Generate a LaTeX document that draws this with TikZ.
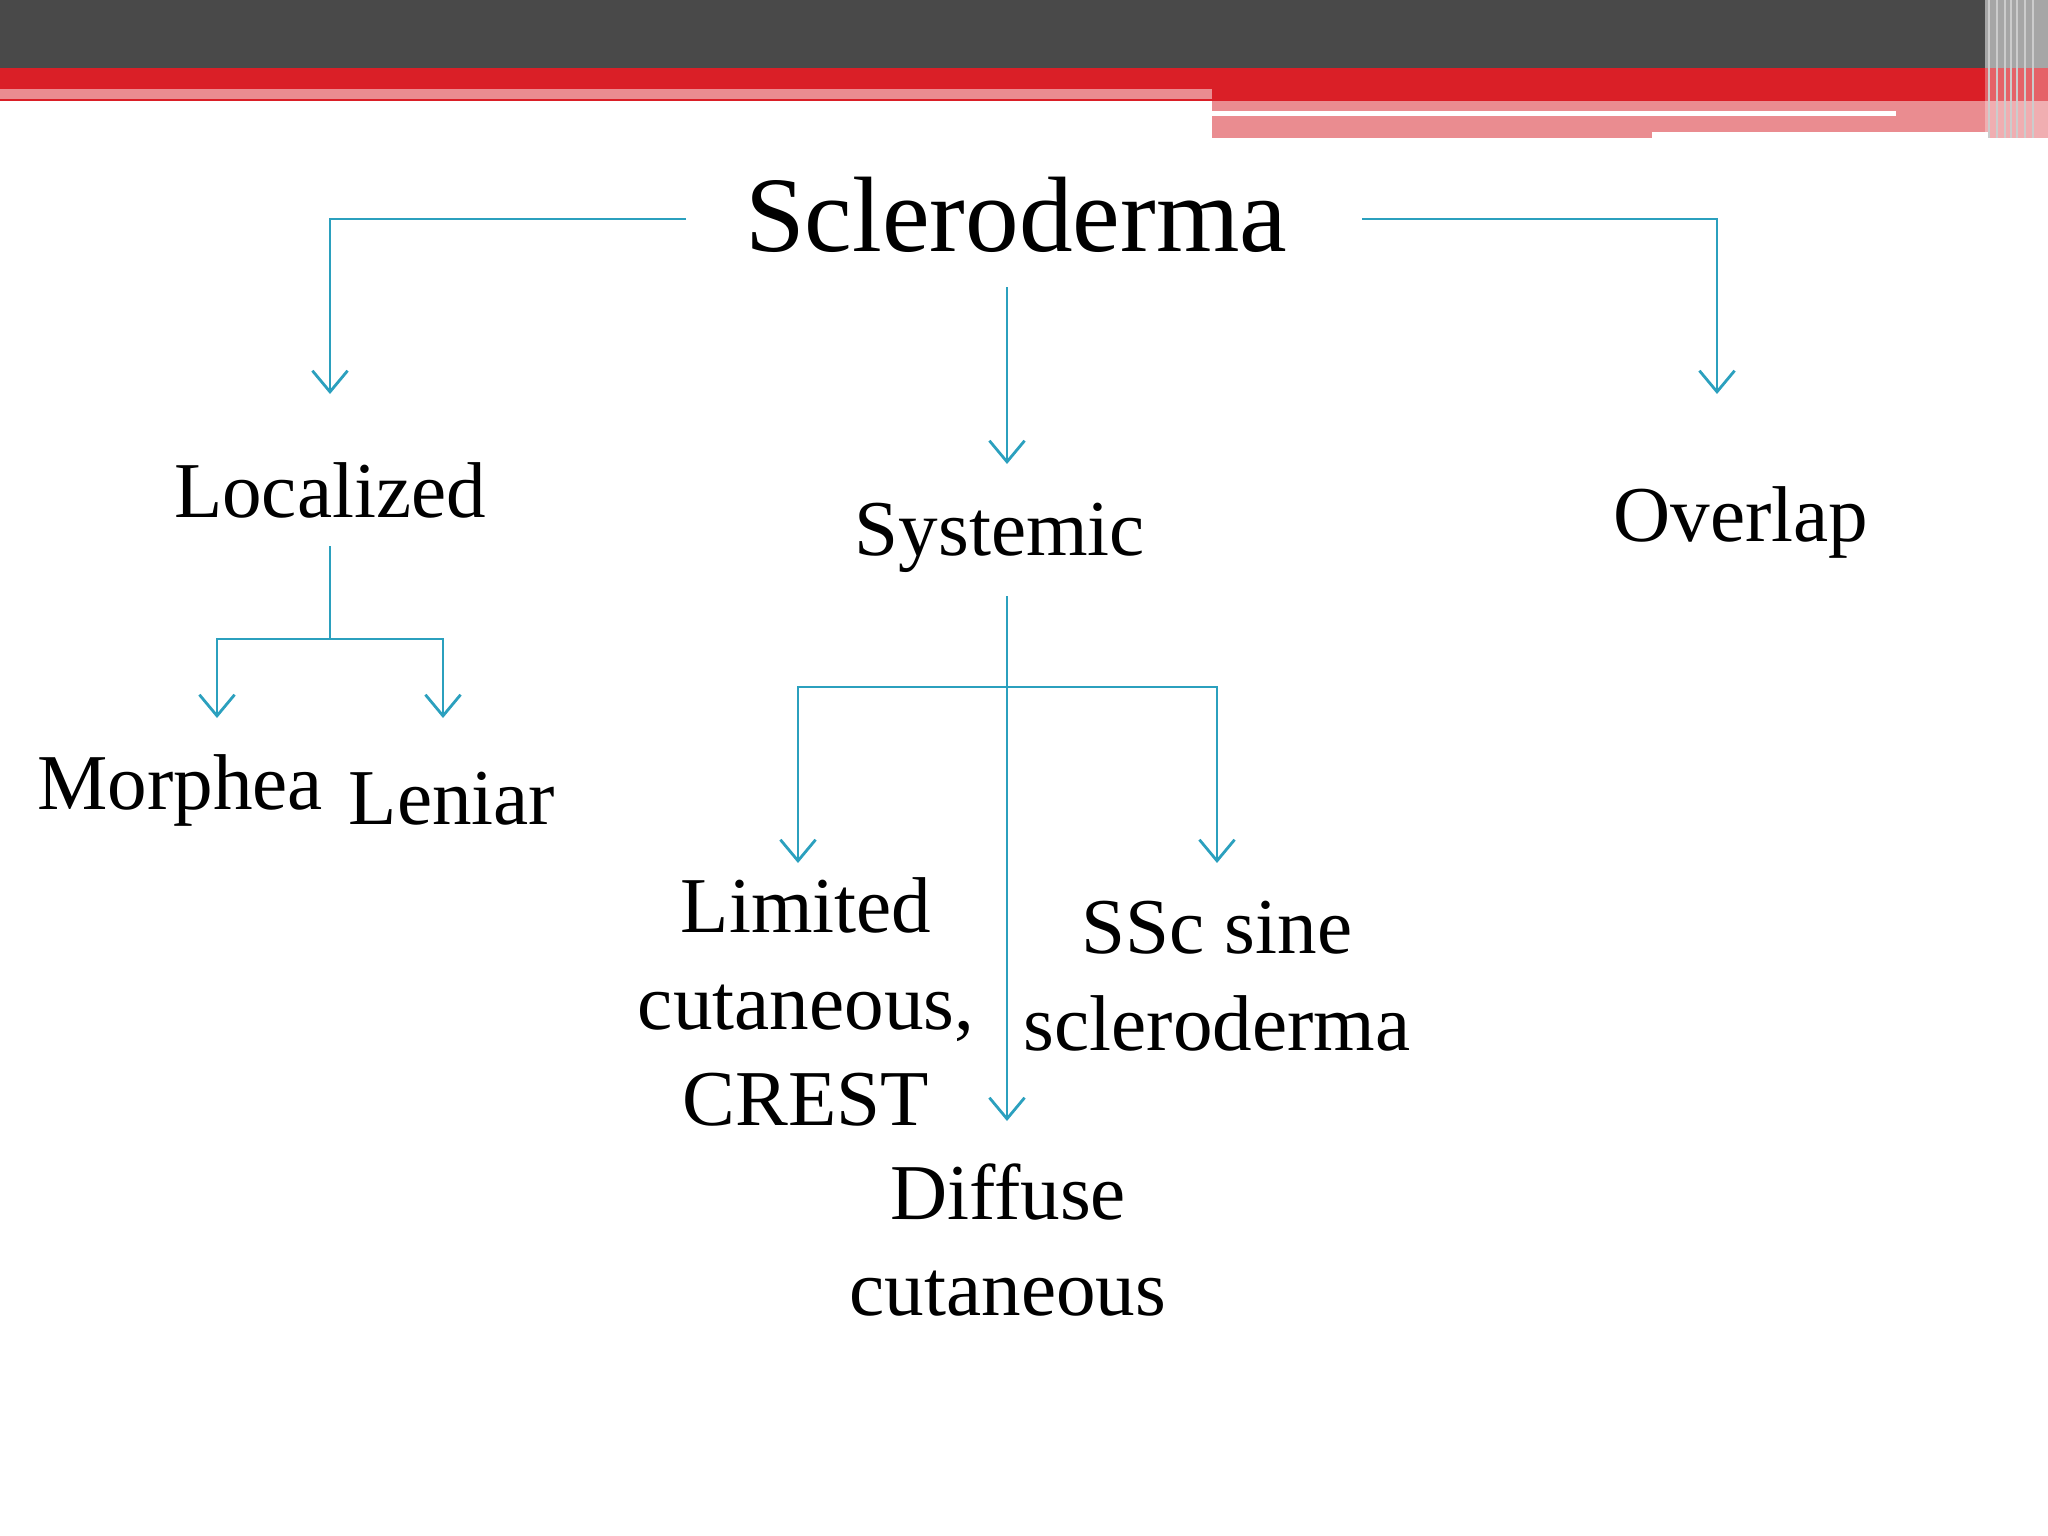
\documentclass[tikz,border=0pt]{standalone}
\usepackage{fontspec}
\setmainfont{Liberation Serif}
\usetikzlibrary{arrows.meta}
\definecolor{teal1}{RGB}{43,160,190}
\definecolor{dark}{RGB}{73,73,73}
\definecolor{red1}{RGB}{218,31,39}
\definecolor{pink1}{RGB}{234,140,144}
\begin{document}
\begin{tikzpicture}[x=0.01cm,y=-0.01cm,
  conn/.style={draw=teal1,line width=0.8pt},
  arr/.style={conn,-{Straight Barb[length=6pt,width=10pt]}},
  big/.style={font=\fontsize{30.5}{36}\selectfont},
  lbl/.style={font=\fontsize{22.5}{27.5}\selectfont,align=center,inner sep=0pt}]
\useasboundingbox (0,0) rectangle (2048,1536);
% header
\fill[dark] (0,0) rectangle (2048,68);
\fill[red1] (0,68) rectangle (2048,101);
\fill[pink1] (0,89) rectangle (1212,99);
\fill[pink1] (1212,101) rectangle (2048,138);
\fill[white] (1212,111) rectangle (1896,116);
\fill[white] (1652,132) rectangle (1990,140);
\fill[gray!70] (1985,0) rectangle (2048,68);
\fill[white,opacity=0.3] (1985,68) rectangle (2048,138);
\foreach \x in {1988,1996,2004,2010,2016,2024,2032}{\fill[white!60!gray] (\x,0) rectangle (\x+2,138);}
% nodes
\node[big] (s) at (1016,215) {Scleroderma};
\node[lbl] (loc) at (330,490) {Localized};
\node[lbl] (sys) at (1000,538) {Systemic};
\node[lbl] (ov) at (1741,522) {Overlap};
\node[lbl] (mo) at (180,790) {Morphea};
\node[lbl] (le) at (452,799) {Leniar};
\node[lbl] (li) at (806,1002) {Limited\\cutaneous,\\CREST};
\node[lbl] (ssc) at (1217,976) {SSc sine\\scleroderma};
\node[lbl] (di) at (1008,1240) {Diffuse\\cutaneous};
\coordinate (sl) at (686,219); \coordinate (sr) at (1362,219);
\coordinate (sb) at (1007,287);
\coordinate (la) at (330,394); \coordinate (ra) at (1717,394); \coordinate (ca) at (1007,464);
\coordinate (lt) at (330,546); \coordinate (lj) at (330,639);
\coordinate (ma) at (217,718); \coordinate (na) at (443,718);
\coordinate (st) at (1007,596); \coordinate (sj) at (1007,687);
\coordinate (da) at (1007,1121); \coordinate (lia) at (798,863); \coordinate (sa) at (1217,863);
\draw[arr] (sl) -| (la);
\draw[arr] (sr) -| (ra);
\draw[arr] (sb) -- (ca);
\draw[conn] (lt) -- (lj);
\draw[arr] (lj) -| (ma);
\draw[arr] (lj) -| (na);
\draw[arr] (st) -- (da);
\draw[arr] (sj) -| (lia);
\draw[arr] (sj) -| (sa);
\end{tikzpicture}
\end{document}
